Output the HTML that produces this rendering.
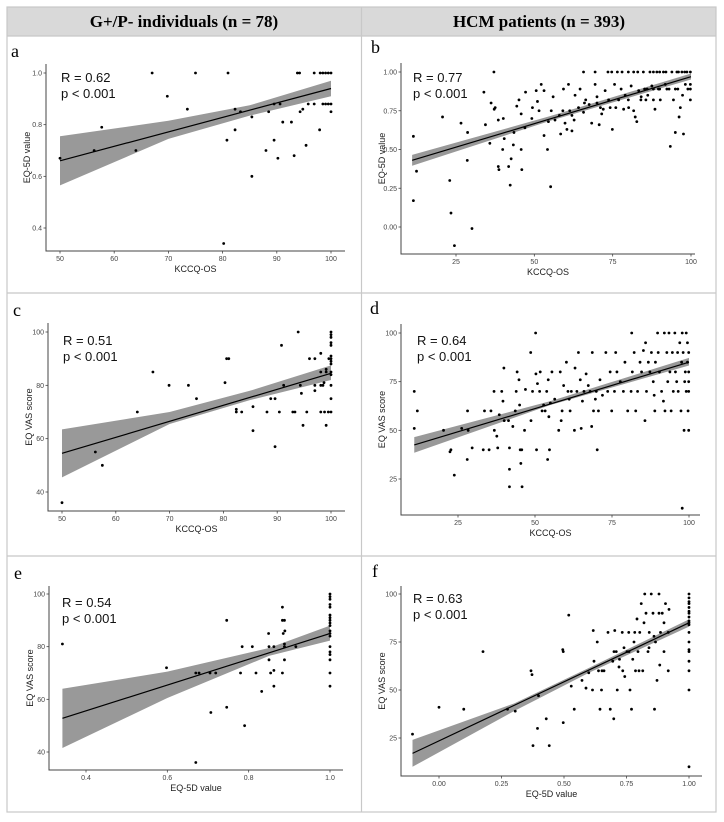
<!DOCTYPE html>
<html><head><meta charset="utf-8">
<style>
html,body{margin:0;padding:0;background:#fff;}
body{width:724px;height:822px;overflow:hidden;position:relative;font-family:"Liberation Sans",sans-serif;}
svg{position:absolute;left:0;top:0;}
.hdr{font-family:"Liberation Serif",serif;font-weight:bold;font-size:17px;}
.lbl{font-family:"Liberation Serif",serif;font-size:18px;}
.tick{font-size:7px;fill:#444;}
.atitle{font-size:9px;fill:#222;}
.stat{font-size:13px;fill:#111;}
</style></head>
<body>
<svg id="fig" width="724" height="822" viewBox="0 0 724 822">
  <rect x="7" y="7" width="709" height="29" fill="#d9d9d9"/>
  <text class="hdr" x="184" y="27" text-anchor="middle">G+/P- individuals (n = 78)</text>
  <text class="hdr" x="539" y="27" text-anchor="middle">HCM patients (n = 393)</text>
  <g stroke="#c8c8c8" stroke-width="1.2" fill="none">
    <rect x="7" y="7" width="709" height="805"/>
    <line x1="7" y1="36" x2="716" y2="36"/>
    <line x1="361.5" y1="7" x2="361.5" y2="812"/>
    <line x1="7" y1="293" x2="716" y2="293"/>
    <line x1="7" y1="556" x2="716" y2="556"/>
  </g>
</svg>
<script>
// ---- Panel a data ----
const aX=[50,56.3,57.7,64,67,69.8,73.5,75,80.2,80.8,81,82.3,82.3,83.3,85.4,85.4,88,88.5,89.5,89.5,90.2,90.6,91.1,92.7,93.2,93.8,94.2,94.3,94.8,95.4,95.8,96.9,96.9,97.9,98,98.5,98.5,99,99,99.5,99.5,100,100,100];
const aY=[0.67,0.70,0.79,0.70,1.0,0.91,0.86,1.0,0.34,0.74,1.0,0.86,0.78,0.85,0.83,0.60,0.70,0.85,0.74,0.88,0.67,0.88,0.81,0.81,0.68,1.0,1.0,0.85,0.86,0.72,0.88,1.0,0.88,0.78,1.0,1.0,0.88,1.0,0.88,1.0,0.88,1.0,0.88,0.85];
const aFitX=[50,100], aFitY=[0.66,0.94];
const aBandX=[50,70,85,100], aBandLo=[0.565,0.745,0.835,0.91], aBandHi=[0.755,0.815,0.875,0.97];
const aXTicks=[50,60,70,80,90,100], aXLabels=["50","60","70","80","90","100"];
const aYTicks=[0.4,0.6,0.8,1.0], aYLabels=["0.4","0.6","0.8","1.0"];
// ---- Panel b data ----
const bX=[11.4,11.4,12.4,20.7,23,23.4,24.5,26.6,28.6,28.7,30.1,33.9,34.4,35.8,36.2,37.1,37.2,37.5,38.5,38.5,38.7,39.9,40.1,40.4,41.8,42.3,42.6,43.3,43.5,44.4,45.1,45.8,45.8,46,47,47.2,49.2,49.4,50.6,51,51.5,52.2,53.1,53.1,54.2,54.5,55.2,55.4,56,56.6,58.4,59.1,59.3,59.8,60.4,60.9,61.3,62,62.7,63,64.1,64.6,65.7,65.7,66.4,67.5,68.3,69.4,69.4,70,70.7,71.1,71.5,72.6,73.5,73.7,74.2,74.7,74.9,75.6,76,76.9,77.7,78.5,79,80.1,80.9,81.7,81.7,82.2,82.7,83.3,84.1,84.8,85.2,85.6,86.2,86.9,87.5,88,88.5,89.1,89.6,90.2,91.2,91.8,92.3,93.4,93.9,94.4,95,95.5,95.8,96.2,96.6,97.1,97.3,97.6,98.2,98.7,99,99.8,99.8,99.8,99.8,76.5,78,80,83,88,90,92,96,98,86,88,90,93,95,80,84,58,62,66,70,72];
const bY=[0.585,0.17,0.36,0.71,0.30,0.09,-0.12,0.67,0.43,0.61,-0.01,0.87,0.66,0.54,0.80,1.0,0.76,0.77,0.69,0.39,0.37,0.50,0.70,0.57,0.39,0.27,0.44,0.53,0.61,0.78,0.82,0.73,0.50,0.37,0.64,0.87,0.70,0.77,0.88,0.81,0.75,0.92,0.88,0.59,0.50,0.68,0.26,0.75,0.84,0.69,0.60,0.75,0.89,0.67,0.63,0.92,0.75,0.62,0.69,0.85,0.77,0.89,1.0,0.74,0.82,0.79,0.67,1.0,0.92,0.84,0.66,0.77,0.73,0.88,1.0,0.82,0.77,1.0,0.63,0.92,0.77,0.82,0.89,0.76,0.85,0.77,0.91,1.0,0.75,0.71,0.68,0.88,0.84,1.0,0.89,0.82,0.85,1.0,0.91,0.82,0.76,1.0,0.89,0.82,1.0,0.92,0.89,0.52,1.0,0.82,0.61,1.0,0.89,0.71,0.77,1.0,0.85,0.60,0.92,1.0,0.89,1.0,0.92,0.89,0.82,1.0,1.0,1.0,1.0,1.0,1.0,1.0,1.0,1.0,0.89,0.89,0.89,0.89,0.89,0.82,0.82,0.72,0.72,0.80,0.80,0.76];
const bFitX=[11,100], bFitY=[0.43,0.97];
const bBandX=[11,55,100], bBandLo=[0.395,0.685,0.952], bBandHi=[0.465,0.715,0.99];
const bXTicks=[25,50,75,100], bXLabels=["25","50","75","100"];
const bYTicks=[0,0.25,0.5,0.75,1.0], bYLabels=["0.00","0.25","0.50","0.75","1.00"];
// ---- Panel c data ----
const cX=[50,56.2,57.5,64,66.9,69.9,73.5,75,80.3,80.6,81,82.4,82.4,83.4,85.5,85.5,88.1,88.8,89.6,89.6,90.4,90.8,91.2,92.9,93.3,93.9,94.3,94.5,94.8,95.5,96,97,97,97,98.1,98.1,98.1,98.1,98.5,98.7,98.8,99.1,99.1,99.1,99.5,99.6,100,100,100,100,100,100,100,100,100,100,100,100,100,100];
const cY=[36,55,50,70,85,80,80,75,81,90,90,71,70,70,72,63,70,75,75,57,70,95,80,70,70,100,80,77,65,70,90,90,80,78,92,85,80,70,80,81,70,65,85,86,70,90,100,99,98,96,95,91,90,89,88,85,84,80,75,70];
const cFitX=[50,100], cFitY=[54.5,84.5];
const cBandX=[50,70,85,100], cBandLo=[45.5,65.5,74.5,82], cBandHi=[63.5,70,78,87.5];
const cXTicks=[50,60,70,80,90,100], cXLabels=["50","60","70","80","90","100"];
const cYTicks=[40,60,80,100], cYLabels=["40","60","80","100"];
// ---- Panel d data ----
const dX=[10.8,10.8,11.8,20.3,22.4,22.7,23.8,26.2,28,28.1,28.3,29.6,33.2,33.6,35.1,35.7,36.7,36.8,37.6,37.9,38.4,39.2,39.6,39.9,40,41.4,41.7,41.7,41.7,42.8,43.6,43.9,44.2,44.8,45,45.2,45.4,45.7,45.8,46.6,46.9,48.6,48.7,49.2,50.2,50.3,50.5,50.8,51.5,51.7,52.3,52.8,53.3,53.8,54.1,54.3,54.5,54.7,55,55.5,56.4,57.7,58.2,58.5,58.8,59.3,60.2,60.7,61.1,61.4,61.8,62.8,63,63.6,64.1,64.7,65,65.4,65.9,66.6,67.3,67.9,68.4,68.6,69,69.6,69.9,70.2,70.6,71.1,71.9,73,73.6,74.4,74.9,75.8,76.2,76.6,77.7,78.7,79.2,80.1,81.2,81.4,81.6,82.2,82.7,83.3,84.1,84.6,85.2,85.7,85.9,86.2,86.8,87.3,87.8,88.4,88.7,88.9,89.1,89.8,90,90.4,91.1,91.7,92,92.2,92.8,93.1,93.5,93.8,94.2,94.6,94.9,95.4,95.6,96,96.3,96.5,97,97.4,97.6,97.8,97.8,98.1,98.4,98.6,98.8,99.1,99.1,99.5,99.5,99.7,99.9,99.9,99.9,99.9,99.9];
const dY=[70,51,60,50,39,40,27,51,35,60,50,41,40,60,40,60,70,50,47,41,58,70,65,82,55,55,21,41,30,52,60,70,80,76,63,40,33,40,21,50,71,90,55,70,100,79,40,74,70,80,60,63,60,70,35,76,57,40,64,80,66,50,80,55,60,73,85,70,66,60,70,50,82,70,90,76,51,65,70,79,73,70,52,90,60,66,70,40,60,76,68,90,70,80,60,70,90,80,75,70,85,60,70,100,80,90,60,70,85,80,91,55,95,70,85,80,90,75,68,60,85,100,90,80,70,65,100,60,90,75,100,80,60,90,70,100,80,75,90,70,95,60,85,100,10,90,50,75,80,70,100,95,85,60,90,80,75,70,50];
const dFitX=[10.8,100], dFitY=[42.5,85];
const dBandX=[10.8,55,100], dBandLo=[38.5,63,83.3], dBandHi=[46.5,65,87.2];
const dXTicks=[25,50,75,100], dXLabels=["25","50","75","100"];
const dYTicks=[25,50,75,100], dYLabels=["25","50","75","100"];
// ---- Panel e data ----
const eX=[0.342,0.598,0.670,0.678,0.705,0.707,0.719,0.670,0.746,0.746,0.780,0.784,0.790,0.809,0.818,0.832,0.849,0.850,0.850,0.854,0.862,0.862,0.862,0.883,0.883,0.888,0.885,0.889,0.888,0.888,0.888,0.883,0.916,1,1,1,1,1,1,1,1,1,1,1,1,1,1,1,1,1,1,1];
const eY=[81,72,70,70,70,55,70,36,90,57,70,80,50,80,70,63,85,80,75,70,80,71,65,95,90,90,85,86,80,81,75,70,80,100,99,98,96,95,92,91,90,89,88,86,85,84,80,78,77,75,70,65];
const eFitX=[0.342,1.0], eFitY=[52.8,85];
const eBandX=[0.342,0.6,0.85,1.0], eBandLo=[41.5,60.5,76.5,82.3], eBandHi=[64,70.5,79.5,88];
const eXTicks=[0.4,0.6,0.8,1.0], eXLabels=["0.4","0.6","0.8","1.0"];
const eYTicks=[40,60,80,100], eYLabels=["40","60","80","100"];
// ---- Panel f data ----
const fX=[-0.106,0.0,0.099,0.176,0.274,0.305,0.368,0.372,0.376,0.394,0.398,0.429,0.441,0.495,0.497,0.497,0.519,0.529,0.541,0.572,0.588,0.599,0.614,0.617,0.633,0.638,0.644,0.650,0.652,0.676,0.685,0.695,0.699,0.703,0.709,0.713,0.722,0.733,0.735,0.743,0.752,0.759,0.764,0.770,0.775,0.783,0.786,0.792,0.796,0.803,0.809,0.815,0.823,0.828,0.836,0.841,0.849,0.856,0.862,0.866,0.872,0.880,0.883,0.886,0.893,0.900,0.906,0.917,0.917,0.920,1,1,1,1,1,1,1,1,1,1,1,1,1,1,1,1,1,1,1,0.62,0.66,0.70,0.74,0.78,0.82,0.86,0.90,0.72,0.80,0.88,0.76,0.84];
const fY=[27,41,40,70,40,39,60,58,21,30,47,35,21,71,70,33,89,52,40,55,51,59,50,81,75,60,40,50,60,80,40,65,35,81,70,50,66,80,60,57,70,80,50,40,66,80,60,87,70,80,95,60,100,90,70,80,100,90,40,75,55,100,63,80,90,70,95,80,60,92,100,98,96,95,93,91,90,88,86,85,84,80,75,71,70,65,60,50,10,65,60,70,72,75,85,78,85,62,60,90,70,72];
const fFitX=[-0.106,1.0], fFitY=[17,85];
const fBandX=[-0.106,0.3,0.6,1.0], fBandLo=[10,39,59,83], fBandHi=[24,43,61.5,86.8];
const fXTicks=[0,0.25,0.5,0.75,1.0], fXLabels=["0.00","0.25","0.50","0.75","1.00"];
const fYTicks=[25,50,75,100], fYLabels=["25","50","75","100"];

const NS="http://www.w3.org/2000/svg";
const fig=document.getElementById('fig');
function mk(tag,attrs,parent){const e=document.createElementNS(NS,tag);for(const k in attrs)e.setAttribute(k,attrs[k]);(parent||fig).appendChild(e);return e;}

function panel(id,letter,lx,ly,geo,xd,yd,X,Y,fitX,fitY,bX,bLo,bHi,xt,xl,yt,yl,xtitle,ytitle,stat,sx,sy){
  const g=mk('g',{});
  
  
  const sxf=v=>geo.x0+(v-xd[0])/(xd[1]-xd[0])*(geo.x1-geo.x0);
  const syf=v=>geo.y0+(v-yd[0])/(yd[1]-yd[0])*(geo.y1-geo.y0);
  const L=mk('text',{x:lx,y:ly,class:'lbl'},g);L.textContent=letter;
  
  
  // band
  let pts=[];
  for(let i=0;i<bX.length;i++)pts.push(sxf(bX[i])+','+syf(bHi[i]));
  for(let i=bX.length-1;i>=0;i--)pts.push(sxf(bX[i])+','+syf(bLo[i]));
  const band=mk('polygon',{points:pts.join(' '),fill:'#999',stroke:'none'},g);
  
  
  // points
  for(let i=0;i<X.length;i++){
    const c=mk('circle',{cx:sxf(X[i]),cy:syf(Y[i]),r:1.4,fill:'#000'},g);
    
    
  }
  const fl=mk('line',{x1:sxf(fitX[0]),y1:syf(fitY[0]),x2:sxf(fitX[1]),y2:syf(fitY[1]),stroke:'#000','stroke-width':1.2},g);
  
  
  // axes
  const ax=mk('path',{d:`M${geo.l},${geo.t}V${geo.b}H${geo.r}`,stroke:'#444','stroke-width':1,fill:'none'},g);
  
  
  xt.forEach((v,i)=>{
    const x=sxf(v);
    mk('line',{x1:x,x2:x,y1:geo.b,y2:geo.b+2.5,stroke:'#444','stroke-width':0.8},g);
    const t=mk('text',{x:x,y:geo.b+10,'text-anchor':'middle',class:'tick'},g);t.textContent=xl[i];
    
    
  });
  yt.forEach((v,i)=>{
    const y=syf(v);
    mk('line',{x1:geo.l-2.5,x2:geo.l,y1:y,y2:y,stroke:'#444','stroke-width':0.8},g);
    const t=mk('text',{x:geo.l-4,y:y+2.5,'text-anchor':'end',class:'tick'},g);t.textContent=yl[i];
    
    
  });
  const xtT=mk('text',{x:(geo.l+geo.r)/2,y:geo.b+21,'text-anchor':'middle',class:'atitle'},g);xtT.textContent=xtitle;
  
  
  const cy=(geo.t+geo.b)/2, cx=geo.l-16;
  const ytT=mk('text',{x:cx,y:cy,'text-anchor':'middle',class:'atitle',transform:`rotate(-90 ${cx} ${cy})`},g);ytT.textContent=ytitle;
  
  
  const s1=mk('text',{x:sx,y:sy,class:'stat'},g);s1.textContent=stat;
  
  
  const s2=mk('text',{x:sx,y:sy+16,class:'stat'},g);s2.textContent='p < 0.001';
  
  
}

panel('a','a',11,57,{x0:60,x1:331,y0:228,y1:73,l:46,r:345,t:64,b:251},[50,100],[0.4,1.0],aX,aY,aFitX,aFitY,aBandX,aBandLo,aBandHi,aXTicks,aXLabels,aYTicks,aYLabels,'KCCQ-OS','EQ-5D value','R = 0.62',61,82);
panel('b','b',371,53,{x0:456,x1:691,y0:227,y1:72,l:401,r:695,t:63,b:254},[25,100],[0,1.0],bX,bY,bFitX,bFitY,bBandX,bBandLo,bBandHi,bXTicks,bXLabels,bYTicks,bYLabels,'KCCQ-OS','EQ-5D value','R = 0.77',413,82);
panel('c','c',13,316,{x0:62,x1:331,y0:492,y1:332,l:48,r:345,t:323,b:511},[50,100],[40,100],cX,cY,cFitX,cFitY,cBandX,cBandLo,cBandHi,cXTicks,cXLabels,cYTicks,cYLabels,'KCCQ-OS','EQ VAS score','R = 0.51',63,345);
panel('d','d',370,314,{x0:458,x1:689,y0:479,y1:333,l:401,r:700,t:324,b:515},[25,100],[25,100],dX,dY,dFitX,dFitY,dBandX,dBandLo,dBandHi,dXTicks,dXLabels,dYTicks,dYLabels,'KCCQ-OS','EQ VAS score','R = 0.64',417,345);
panel('e','e',14,579,{x0:86,x1:330,y0:752,y1:594,l:49,r:343,t:586,b:770},[0.4,1.0],[40,100],eX,eY,eFitX,eFitY,eBandX,eBandLo,eBandHi,eXTicks,eXLabels,eYTicks,eYLabels,'EQ-5D value','EQ VAS score','R = 0.54',62,607);
panel('f','f',372,577,{x0:439,x1:689,y0:738,y1:594,l:401,r:702,t:586,b:776},[0,1.0],[25,100],fX,fY,fFitX,fFitY,fBandX,fBandLo,fBandHi,fXTicks,fXLabels,fYTicks,fYLabels,'EQ-5D value','EQ VAS score','R = 0.63',413,603);
</script>
</body></html>
